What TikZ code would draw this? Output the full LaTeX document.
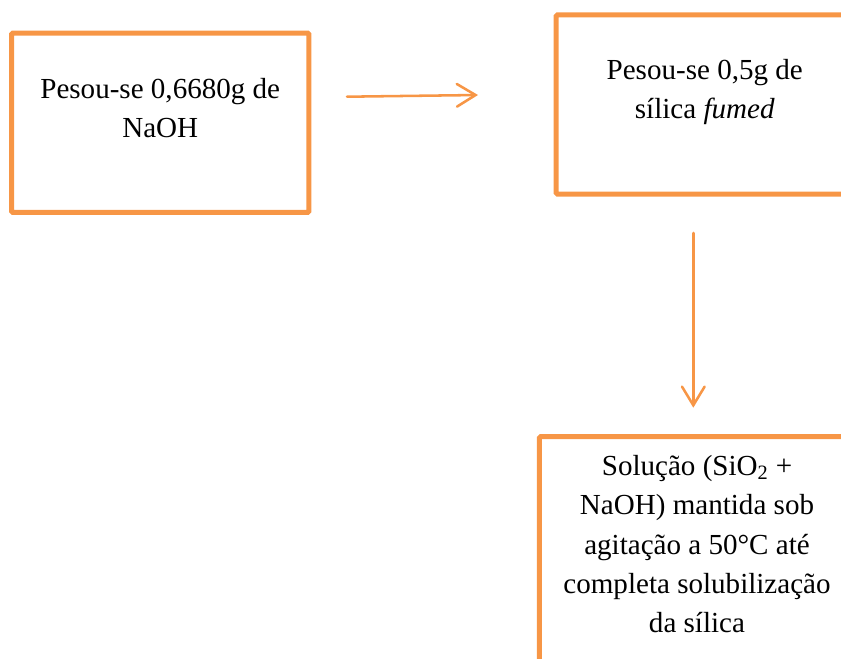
\documentclass[tikz,border=0pt]{standalone}
\usepackage{fontspec}
\setmainfont{Liberation Serif}
\usepackage{xcolor}
\usetikzlibrary{arrows.meta,positioning,calc}
\definecolor{boxorange}{HTML}{F79646}

\begin{document}
\begin{tikzpicture}[x=0.75pt,y=-0.75pt,
	stepbox/.style={draw=boxorange,line width=3.75pt,rounded corners=1pt,inner sep=0pt},
	steptext/.style={align=center,inner sep=0pt,anchor=north,font=\fontsize{21.8}{29.5}\selectfont},
	flow/.style={draw=boxorange,line width=1.9pt,line cap=round,-{Straight Barb[length=14pt,width=17pt,line cap=round]}}]
	\useasboundingbox (0,0) rectangle (841,658);
	\clip (0,0) rectangle (841,658);
	
	% Boxes
	\node[stepbox,minimum width=223.1pt,minimum height=134.6pt] (naoh) at (160.25,122.75) {};
	\node[stepbox,minimum width=223.1pt,minimum height=134.3pt] (silica) at (704.75,104.5) {};
	\node[stepbox,minimum width=236.3pt,minimum height=177pt] (solucao) at (697,554.5) {};
	
	% Texts
	\node[steptext] (naohtext) at (160.25,78) {Pesou-se 0,6680g de\\NaOH};
	\node[steptext] (silicatext) at (704.75,59) {Pesou-se 0,5g de\\sílica \textit{fumed}};
	\node[steptext] (solucaotext) at (697,455) {Solução (SiO\textsubscript{2} +\\NaOH) mantida sob\\agitação a 50°C até\\completa solubilização\\da sílica};
	
	% Arrows
	\coordinate (a1) at (347,96.7);
	\coordinate (a2) at (478,95);
	\coordinate (b1) at (693.3,233);
	\coordinate (b2) at (693.3,407.7);
	\draw[flow] (a1) -- (a2);
	\draw[flow] (b1) -- (b2);
\end{tikzpicture}
\end{document}
